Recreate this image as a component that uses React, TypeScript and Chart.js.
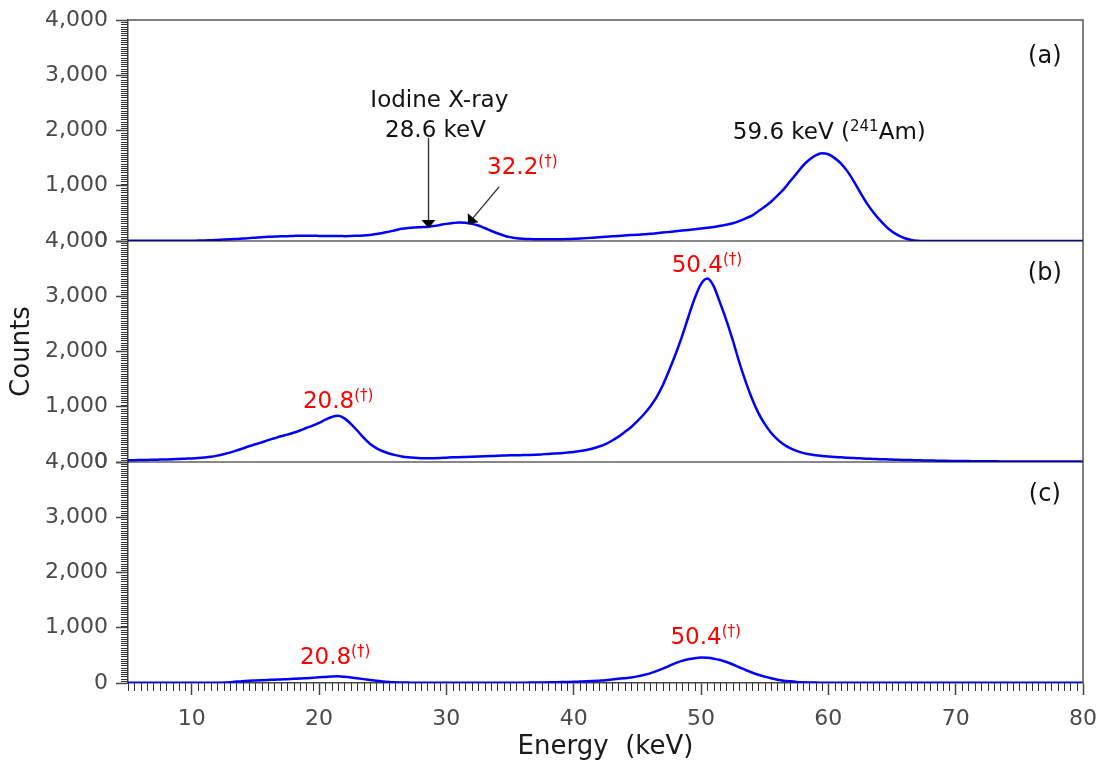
import React, { useEffect, useRef } from 'react';
import { Chart, registerables } from 'chart.js';

Chart.register(...registerables);

// ---------------- data ----------------
const ENERGY_KEV = [
  5, 5.5, 6, 6.5, 7, 7.5, 8, 8.5, 9, 9.5, 10,
  10.5, 11, 11.5, 12, 12.5, 13, 13.5, 14, 14.5, 15, 15.5, 16, 16.5, 17, 17.5, 18, 18.5, 19, 19.5, 20,
  20.5, 21, 21.5, 22, 22.5, 23, 23.5, 24, 24.5, 25, 25.5, 26, 26.5, 27, 27.5, 28, 28.5, 29, 29.5, 30,
  30.5, 31, 31.5, 32, 32.5, 33, 33.5, 34, 34.5, 35, 35.5, 36, 36.5, 37, 37.5, 38, 38.5, 39, 39.5, 40,
  40.5, 41, 41.5, 42, 42.5, 43, 43.5, 44, 44.5, 45, 45.5, 46, 46.5, 47, 47.5, 48, 48.5, 49, 49.5, 50,
  50.5, 51, 51.5, 52, 52.5, 53, 53.5, 54, 54.5, 55, 55.5, 56, 56.5, 57, 57.5, 58, 58.5, 59, 59.5, 60,
  60.5, 61, 61.5, 62, 62.5, 63, 63.5, 64, 64.5, 65, 65.5, 66, 66.5, 67, 67.5, 68, 68.5, 69, 69.5, 70,
  70.5, 71, 71.5, 72, 72.5, 73, 73.5, 74, 74.5, 75, 75.5, 76, 76.5, 77, 77.5, 78, 78.5, 79, 79.5, 80,
];

// panel (a)
const COUNTS_A = [
  5, 5, 5, 5, 5, 5, 5, 5, 5, 5, 5,
  8, 10, 15, 20, 25, 30, 38, 45, 52, 60, 68, 75, 80, 85, 88, 92, 95, 95, 95, 92,
  90, 90, 90, 88, 90, 95, 100, 110, 125, 145, 170, 195, 220, 235, 245, 250, 255, 270, 290, 310,
  325, 335, 330, 310, 280, 235, 185, 140, 100, 70, 50, 40, 35, 32, 30, 30, 30, 32, 35, 40,
  45, 52, 60, 70, 78, 85, 92, 100, 107, 113, 120, 130, 140, 152, 165, 178, 190, 200, 212, 225,
  240, 255, 275, 295, 320, 360, 410, 460, 540, 620, 710, 820, 940, 1080, 1220, 1360, 1470, 1550, 1590, 1570,
  1500, 1400, 1260, 1080, 880, 690, 530, 390, 270, 170, 100, 50, 20, 5, 0, 0, 0, 0, 0, 0,
  0, 0, 0, 0, 0, 0, 0, 0, 0, 0, 0, 0, 0, 0, 0, 0, 0, 0, 0, 0,
];

// panel (b)
const COUNTS_B = [
  30, 32, 35, 38, 40, 43, 46, 50, 55, 60, 65,
  72, 82, 95, 115, 140, 170, 205, 245, 285, 320, 355, 395, 430, 465, 495, 530, 570, 615, 660, 710,
  765, 815, 835, 790, 690, 570, 440, 330, 250, 195, 155, 125, 100, 85, 75, 68, 66, 68, 72, 78,
  84, 88, 92, 96, 100, 104, 108, 112, 116, 120, 122, 125, 128, 132, 138, 145, 152, 160, 170, 182,
  198, 218, 245, 280, 325, 385, 455, 540, 630, 740, 860, 1000, 1170, 1390, 1660, 1950, 2270, 2620, 2960, 3220,
  3320, 3180, 2880, 2560, 2200, 1810, 1460, 1150, 890, 690, 530, 410, 315, 250, 200, 165, 140, 122, 110, 100,
  92, 85, 78, 72, 66, 60, 56, 52, 48, 44, 40, 37, 34, 31, 28, 26, 24, 22, 20, 18,
  17, 16, 15, 14, 13, 12, 11, 10, 10, 9, 9, 8, 8, 8, 8, 8, 8, 8, 8, 8,
];

// panel (c)
const COUNTS_C = [
  3, 3, 3, 3, 3, 3, 3, 3, 3, 3, 3,
  3, 3, 3, 3, 8, 15, 25, 32, 40, 45, 50, 55, 60, 65, 70, 75, 80, 88, 95, 102,
  110, 118, 120, 112, 100, 85, 70, 55, 40, 28, 18, 12, 8, 7, 6, 6, 6, 6, 6, 6,
  6, 6, 6, 6, 6, 6, 6, 6, 6, 6, 6, 6, 7, 8, 10, 12, 14, 16, 19, 22,
  26, 30, 35, 42, 50, 62, 75, 88, 100, 120, 145, 175, 215, 260, 310, 360, 400, 430, 450, 460,
  455, 440, 415, 380, 335, 285, 235, 190, 150, 115, 85, 60, 42, 30, 20, 14, 10, 7, 5, 3,
  3, 3, 3, 3, 3, 3, 3, 3, 3, 3, 3, 3, 3, 3, 3, 3, 3, 3, 3, 3,
  3, 3, 3, 3, 3, 3, 3, 3, 3, 3, 3, 3, 3, 3, 3, 3, 3, 3, 3, 3,
];

const X_TICKS = [10, 20, 30, 40, 50, 60, 70, 80];
const Y_TICKS = [0, 1000, 2000, 3000, 4000];
const PANEL_IDS = ['ya', 'yb', 'yc'];
const PANEL_LABELS = ['(a)', '(b)', '(c)'];
const PANEL_LABEL_COUNTS = [3230, 3300, 3300];
const PANEL_LABEL_E = 77.0;

// annotation anchors in data units (energy keV, counts) per panel
const NOTES = [
  { panel: 'ya', e: 29.45, c: 2430, parts: [{ t: 'Iodine X-ray' }], color: '#111111', align: 'center' },
  { panel: 'ya', e: 29.15, c: 1890, parts: [{ t: '28.6 keV' }], color: '#111111', align: 'center' },
  { panel: 'ya', e: 33.2, c: 1215, parts: [{ t: '32.2' }, { t: '(†)', sup: true }], color: '#ff0000', align: 'left' },
  { panel: 'ya', e: 52.5, c: 1845, parts: [{ t: '59.6 keV (' }, { t: '241', sup: true }, { t: 'Am)' }], color: '#111111', align: 'left' },
  { panel: 'yb', e: 47.7, c: 3440, parts: [{ t: '50.4' }, { t: '(†)', sup: true }], color: '#ff0000', align: 'left' },
  { panel: 'yb', e: 18.74, c: 975, parts: [{ t: '20.8' }, { t: '(†)', sup: true }], color: '#ff0000', align: 'left' },
  { panel: 'yc', e: 18.5, c: 345, parts: [{ t: '20.8' }, { t: '(†)', sup: true }], color: '#ff0000', align: 'left' },
  { panel: 'yc', e: 47.6, c: 705, parts: [{ t: '50.4' }, { t: '(†)', sup: true }], color: '#ff0000', align: 'left' },
];

// arrows: from (e0,c0) to tip (e1,c1) in panel (a)
const ARROWS = [
  { panel: 'ya', e0: 28.6, c0: 1868, e1: 28.6, c1: 236 },
  { panel: 'ya', e0: 34.14, c0: 980, e1: 31.7, c1: 308 },
];

// ---------------- styling ----------------
const FONT = 'DejaVu Sans';
const TICK_COLOR = '#4a4a4a';
const AXIS_COLOR = '#444444';

function drawRich(ctx: CanvasRenderingContext2D, x: number, y: number, parts: any[], color: string, align: string, size = 23) {
  const mainFont = `${size}px "${FONT}"`;
  const supFont = `15px "${FONT}"`;
  let w = 0;
  for (const p of parts) {
    ctx.font = p.sup ? supFont : mainFont;
    w += ctx.measureText(p.t).width;
  }
  let cx = align === 'center' ? x - w / 2 : x;
  ctx.fillStyle = color;
  ctx.textAlign = 'left';
  ctx.textBaseline = 'alphabetic';
  for (const p of parts) {
    ctx.font = p.sup ? supFont : mainFont;
    ctx.fillText(p.t, cx, p.sup ? y - 8 : y);
    cx += ctx.measureText(p.t).width;
  }
}

function drawArrow(ctx: CanvasRenderingContext2D, x0: number, y0: number, x1: number, y1: number) {
  const ang = Math.atan2(y1 - y0, x1 - x0);
  const headLen = 8;
  const headHalf = 7;
  const bx = x1 - headLen * Math.cos(ang);
  const by = y1 - headLen * Math.sin(ang);
  ctx.strokeStyle = '#333333';
  ctx.lineWidth = 1.4;
  ctx.beginPath();
  ctx.moveTo(x0, y0);
  ctx.lineTo(bx, by);
  ctx.stroke();
  ctx.fillStyle = '#000000';
  ctx.beginPath();
  ctx.moveTo(x1, y1);
  ctx.lineTo(bx + headHalf * Math.sin(ang), by - headHalf * Math.cos(ang));
  ctx.lineTo(bx - headHalf * Math.sin(ang), by + headHalf * Math.cos(ang));
  ctx.closePath();
  ctx.fill();
}

const decorPlugin = {
  id: 'decor',
  afterDraw(chart: any) {
    const ctx: CanvasRenderingContext2D = chart.ctx;
    const area = chart.chartArea;
    const xs = chart.scales.x;
    const panels = PANEL_IDS.map((id) => chart.scales[id]);
    ctx.save();

    // minor ticks on x (every 0.5 keV)
    ctx.strokeStyle = '#333333';
    ctx.lineWidth = 1;
    ctx.beginPath();
    for (let i = 0; i <= 150; i++) {
      const v = xs.min + i * 0.5;
      if (v > xs.max + 1e-9) break;
      if (Math.abs(v % 10) < 1e-6) continue;
      const px = Math.round(xs.getPixelForValue(v)) + 0.5;
      ctx.moveTo(px, area.bottom);
      ctx.lineTo(px, area.bottom + 8);
    }
    ctx.stroke();

    // minor ticks on each y panel (every 40 counts)
    ctx.beginPath();
    for (const ys of panels) {
      for (let v = 40; v < 4000; v += 40) {
        if (v % 1000 === 0) continue;
        const py = Math.round(ys.getPixelForValue(v)) + 0.5;
        ctx.moveTo(area.left - 7, py);
        ctx.lineTo(area.left, py);
      }
    }
    ctx.stroke();

    // frame: top and right
    ctx.strokeStyle = '#555555';
    ctx.lineWidth = 1.5;
    ctx.beginPath();
    ctx.moveTo(area.left, area.top);
    ctx.lineTo(area.right, area.top);
    ctx.lineTo(area.right, area.bottom);
    ctx.stroke();

    // panel separators
    ctx.strokeStyle = '#111111';
    ctx.lineWidth = 1.2;
    ctx.beginPath();
    for (let i = 0; i < panels.length - 1; i++) {
      const y = panels[i].bottom;
      ctx.moveTo(area.left, y);
      ctx.lineTo(area.right, y);
    }
    ctx.stroke();

    // panel letters
    panels.forEach((ys, i) => {
      drawRich(ctx, xs.getPixelForValue(PANEL_LABEL_E), ys.getPixelForValue(PANEL_LABEL_COUNTS[i]), [{ t: PANEL_LABELS[i] }], '#111111', 'center', 24);
    });

    // notes
    for (const n of NOTES) {
      const ys = chart.scales[n.panel];
      drawRich(ctx, xs.getPixelForValue(n.e), ys.getPixelForValue(n.c), n.parts, n.color, n.align);
    }

    // arrows
    for (const a of ARROWS) {
      const ys = chart.scales[a.panel];
      drawArrow(ctx, xs.getPixelForValue(a.e0), ys.getPixelForValue(a.c0), xs.getPixelForValue(a.e1), ys.getPixelForValue(a.c1));
    }

    // axis titles
    ctx.fillStyle = '#1a1a1a';
    ctx.font = `26px "${FONT}"`;
    ctx.textAlign = 'center';
    ctx.textBaseline = 'middle';
    ctx.fillText('Energy  (keV)', (area.left + area.right) / 2, 747);
    ctx.save();
    ctx.translate(22, (area.top + area.bottom) / 2);
    ctx.rotate(-Math.PI / 2);
    ctx.fillText('Counts', 0, 0);
    ctx.restore();

    ctx.restore();
  },
};

function yScale(weight: number) {
  return {
    type: 'linear',
    position: 'left',
    stack: 'panels',
    stackWeight: 1,
    weight,
    min: 0,
    max: 4000,
    afterBuildTicks: (s: any) => {
      s.ticks = Y_TICKS.map((v) => ({ value: v }));
    },
    afterFit: (s: any) => {
      s.width = 128;
      s.paddingTop = 0;
      s.paddingBottom = 0;
    },
    ticks: {
      color: TICK_COLOR,
      font: { family: FONT, size: 22 },
      padding: 8,
      autoSkip: false,
      callback: (v: any) => Number(v).toLocaleString('en-US'),
    },
    grid: {
      display: true,
      drawOnChartArea: false,
      drawTicks: true,
      tickLength: 12,
      tickColor: AXIS_COLOR,
      tickWidth: 1.5,
    },
    border: { display: true, color: AXIS_COLOR, width: 1.5 },
  };
}

export default function App() {
  const canvasRef = useRef<HTMLCanvasElement | null>(null);

  useEffect(() => {
    if (!canvasRef.current) return;
    const mk = (vals: number[], axis: string) => ({
      data: ENERGY_KEV.map((e, i) => ({ x: e, y: vals[i] })),
      yAxisID: axis,
      xAxisID: 'x',
      borderColor: '#0000ff',
      borderWidth: 2.5,
      pointRadius: 0,
      fill: false,
      cubicInterpolationMode: 'monotone',
    });
    const chart = new Chart(canvasRef.current, {
      type: 'line',
      data: {
        datasets: [mk(COUNTS_A, 'ya'), mk(COUNTS_B, 'yb'), mk(COUNTS_C, 'yc')] as any,
      },
      options: {
        responsive: true,
        maintainAspectRatio: false,
        animation: false,
        events: [],
        layout: { padding: { top: 20, right: 19, bottom: 0, left: 0 } },
        plugins: { legend: { display: false }, tooltip: { enabled: false } },
        scales: {
          x: {
            type: 'linear',
            position: 'bottom',
            min: 5,
            max: 80,
            afterBuildTicks: (s: any) => {
              s.ticks = X_TICKS.map((v) => ({ value: v }));
            },
            afterFit: (s: any) => {
              s.height = 83;
              s.paddingLeft = 0;
              s.paddingRight = 0;
            },
            ticks: {
              color: TICK_COLOR,
              font: { family: FONT, size: 22 },
              padding: 11,
              maxRotation: 0,
              autoSkip: false,
            },
            grid: {
              display: true,
              drawOnChartArea: false,
              drawTicks: true,
              tickLength: 12,
              tickColor: AXIS_COLOR,
              tickWidth: 1.5,
            },
            border: { display: true, color: AXIS_COLOR, width: 1.5 },
          },
          ya: yScale(3),
          yb: yScale(2),
          yc: yScale(1),
        } as any,
      },
      plugins: [decorPlugin as any],
    });
    return () => chart.destroy();
  }, []);

  return (
    <div style={{ position: 'fixed', left: 0, top: 0, width: 1102, height: 766, background: '#ffffff' }}>
      <canvas ref={canvasRef} />
    </div>
  );
}
